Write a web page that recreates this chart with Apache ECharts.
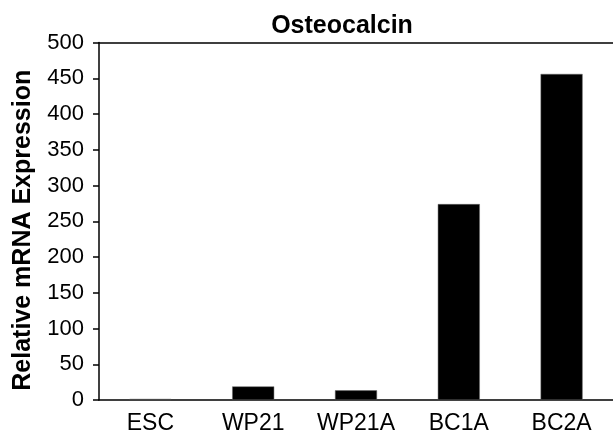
<!DOCTYPE html>
<html>
<head>
<meta charset="utf-8">
<script src="https://cdn.jsdelivr.net/npm/echarts@6/dist/echarts.min.js"></script>
<style>html,body{margin:0;padding:0;background:#fff;}#c{width:613px;height:435px;}</style>
</head>
<body>
<div id="c"></div>
<script>
const categories = ["ESC", "WP21", "WP21A", "BC1A", "BC2A"];
const expression = [1.5, 19, 13.5, 274, 456];
const chartTitle = "Osteocalcin";
const yAxisName = "Relative mRNA Expression";

const chart = echarts.init(document.getElementById('c'), null, {renderer: 'canvas'});
const font = "'Liberation Sans', Arial, sans-serif";
chart.setOption({
  animation: false,
  backgroundColor: '#fff',
  title: {
    text: chartTitle,
    left: 337, top: 9, textAlign: 'center',
    textStyle: {fontFamily: font, fontWeight: 'bold', fontSize: 25, color: '#000'}
  },
  grid: {left: 99, right: -6, top: 42.5, bottom: 34.5, containLabel: false},
  xAxis: [{
    type: 'category', data: categories,
    axisLine: {lineStyle: {color: '#000', width: 1.5}},
    axisTick: {show: false},
    axisLabel: {fontFamily: font, fontSize: 23, color: '#000', margin: 12}
  }, {
    type: 'category', data: categories, position: 'top',
    axisLine: {lineStyle: {color: '#000', width: 1.5}},
    axisTick: {show: false}, axisLabel: {show: false}
  }],
  yAxis: {
    type: 'value', min: 0, max: 500, interval: 50,
    name: yAxisName, nameLocation: 'middle', nameGap: 63,
    nameTextStyle: {fontFamily: font, fontWeight: 'bold', fontSize: 25, color: '#000', padding: [0, 18, 0, 0]},
    axisLine: {show: true, lineStyle: {color: '#000', width: 1.5}},
    axisTick: {show: true, length: 6, lineStyle: {color: '#000', width: 1.5}},
    axisLabel: {fontFamily: font, fontSize: 22, color: '#000', margin: 15},
    splitLine: {show: false}
  },
  series: [{
    type: 'bar', data: expression, barWidth: 42,
    itemStyle: {color: '#000', borderColor: '#666', borderWidth: 0.5}
  }]
});
</script>
</body>
</html>
